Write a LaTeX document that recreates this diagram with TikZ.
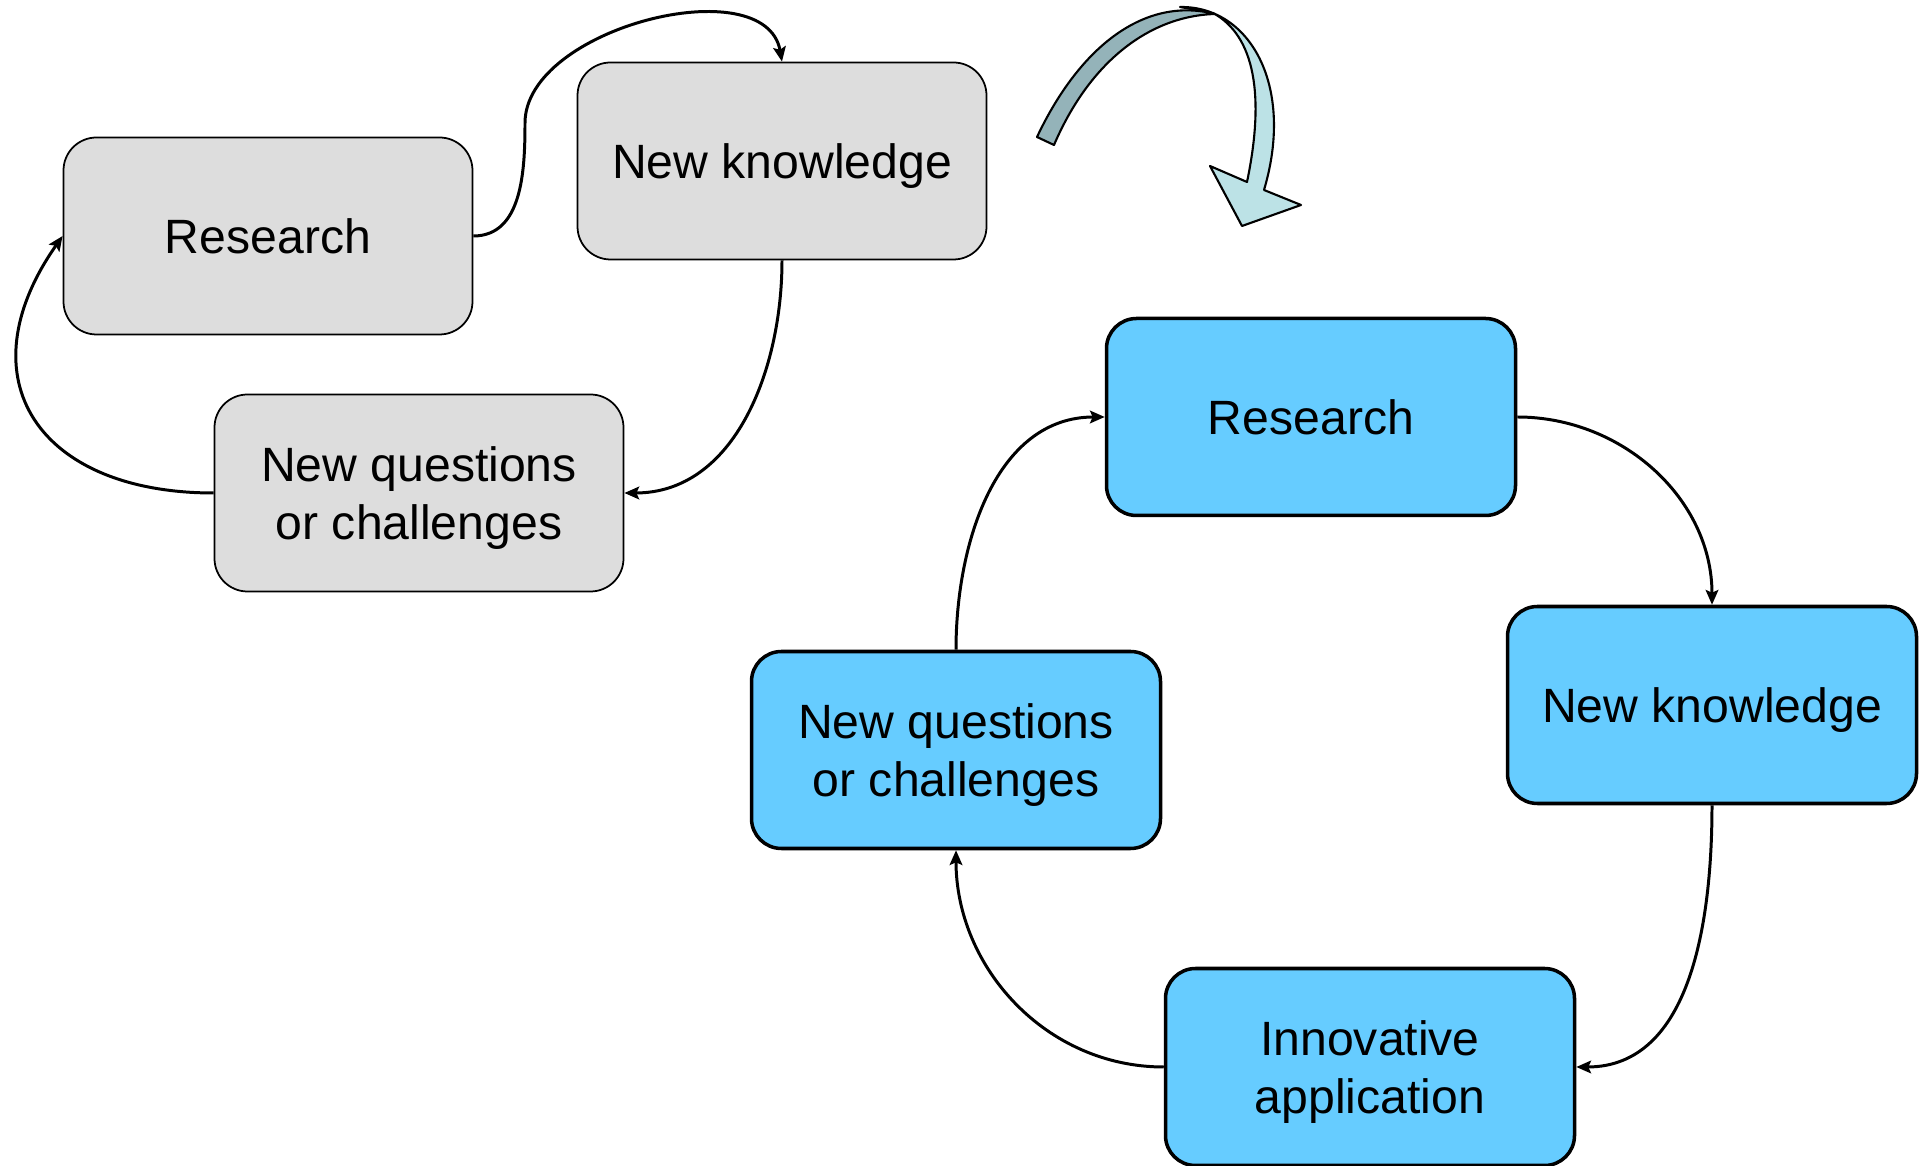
\documentclass[tikz,border=0pt]{standalone}
\usepackage{fontspec}
\setmainfont{Liberation Sans}
\usetikzlibrary{arrows.meta}
\definecolor{boxgrey}{HTML}{DDDDDD}
\definecolor{boxblue}{HTML}{66CCFF}
\definecolor{banddark}{HTML}{94B3B9}
\definecolor{bandlight}{HTML}{BCE2E6}
\tikzset{
  oldbox/.style={draw, line width=0.5pt, fill=boxgrey, rounded corners=0.33cm,
    minimum width=4.09cm, minimum height=1.97cm, inner sep=0pt, align=center,
    text depth=0pt, font=\fontsize{13.7}{16.5}\selectfont},
  newbox/.style={oldbox, fill=boxblue, line width=1pt, rounded corners=0.3cm},
  flow/.style={line width=0.85pt, -{Stealth[length=4.2pt,width=3.6pt,inset=0.8pt]}}
}
\begin{document}
\begin{tikzpicture}
            \useasboundingbox (0, 0) rectangle (19.25, 11.66);

            % old cycle
            \node[oldbox] (oldres) at (2.68, 9.30) {Research};
            \node[oldbox] (oldknow) at (7.82, 10.05) {New knowledge};
            \node[oldbox] (oldques) at (4.19, 6.73) {New questions\\or challenges};
            \coordinate (bend) at (5.25, 10.43);

            \draw[flow] (oldres.east) to[out=0, in=-90] (bend) to[out=90, in=100, looseness=0.92] (oldknow.north);
            \draw[flow] (oldknow.south) to[out=-90, in=0] (oldques.east);
            \draw[flow] (oldques.west) to[out=180, in=235, looseness=1.5] (oldres.west);

            % twisted arrow
            \draw[line width=0.6pt, fill=bandlight, line join=round]
              (11.80, 11.59) .. controls (12.50, 11.60) and (12.95, 10.80) .. (12.64, 9.76)
              -- (13.01, 9.61) -- (12.42, 9.40) -- (12.10, 10.00) -- (12.47, 9.84)
              .. controls (12.65, 10.70) and (12.55, 11.30) .. (12.13, 11.53) -- cycle;
            \draw[line width=0.6pt, fill=banddark, line join=round]
              (10.37, 10.29) .. controls (10.80, 11.20) and (11.45, 11.70) .. (12.15, 11.52)
              .. controls (11.50, 11.50) and (10.90, 11.05) .. (10.54, 10.21) -- cycle;

            % new cycle
            \node[newbox] (newres) at (13.11, 7.49) {Research};
            \node[newbox] (newknow) at (17.12, 4.61) {New knowledge};
            \node[newbox] (newques) at (9.56, 4.16) {New questions\\or challenges};
            \node[newbox] (newapp) at (13.70, 0.99) {Innovative\\application};

            \draw[flow] (newres.east) to[out=0, in=90] (newknow.north);
            \draw[flow] (newknow.south) to[out=-90, in=0] (newapp.east);
            \draw[flow] (newapp.west) to[out=180, in=-90] (newques.south);
            \draw[flow] (newques.north) to[out=90, in=180] (newres.west);
\end{tikzpicture}
\end{document}
